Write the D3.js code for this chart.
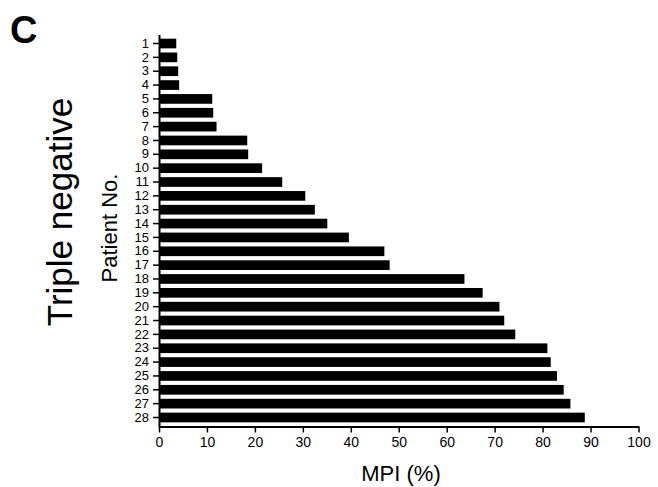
<!DOCTYPE html>
<html>
<head>
<meta charset="utf-8">
<script src="https://cdn.jsdelivr.net/npm/d3@7"></script>
<style>
  body { margin: 0; background: #fff; }
  text { font-family: "Liberation Sans", Arial, Helvetica, sans-serif; }
</style>
</head>
<body>
<div id="container"></div>
<script>
const patients = ["1","2","3","4","5","6","7","8","9","10","11","12","13","14",
                  "15","16","17","18","19","20","21","22","23","24","25","26","27","28"];
// MPI (%) per patient
const mpi = [3.6, 3.8, 4.0, 4.2, 11.1, 11.3, 12.0, 18.4, 18.6, 21.5, 25.7, 30.5, 32.5, 35.1,
             39.6, 47.0, 48.1, 63.7, 67.5, 71.0, 72.0, 74.3, 81.0, 81.7, 83.0, 84.4, 85.8, 88.8];
const xTicks = [0, 10, 20, 30, 40, 50, 60, 70, 80, 90, 100];

const width = 658, height = 487;
const margin = { top: 34.5, right: 20, bottom: 60.5, left: 159 };

const rows = patients.map((p, i) => ({ patient: p, value: mpi[i] }));

const svg = d3.select("#container")
  .append("svg")
    .attr("width", width)
    .attr("height", height);

const x = d3.scaleLinear()
  .domain([0, 100])
  .range([margin.left, 638.5]);

const y = d3.scaleBand()
  .domain(patients)
  .range([margin.top, height - margin.bottom])
  .padding(0.3);

// bars
svg.append("g")
  .selectAll("rect")
  .data(rows)
  .join("rect")
    .attr("x", x(0))
    .attr("y", d => y(d.patient))
    .attr("width", d => x(d.value) - x(0))
    .attr("height", y.bandwidth())
    .attr("fill", "#000");

// y axis
const yAxis = svg.append("g")
  .attr("transform", `translate(${margin.left},0)`)
  .call(d3.axisLeft(y).tickSize(6).tickSizeOuter(0).tickPadding(4));
yAxis.select(".domain").attr("stroke-width", 2);
yAxis.selectAll(".tick line").attr("stroke-width", 1.5);
yAxis.selectAll("text").attr("font-size", 13).attr("fill", "#000");

// x axis
const xAxis = svg.append("g")
  .attr("transform", `translate(0,${height - margin.bottom})`)
  .call(d3.axisBottom(x).tickValues(xTicks).tickSize(6).tickSizeOuter(0).tickPadding(5));
xAxis.select(".domain").attr("stroke-width", 2);
xAxis.selectAll(".tick line").attr("stroke-width", 1.5);
xAxis.selectAll("text").attr("font-size", 14).attr("fill", "#000");

// labels
svg.append("text")
  .attr("x", 401)
  .attr("y", 481)
  .attr("text-anchor", "middle")
  .attr("font-size", 22)
  .text("MPI (%)");

svg.append("text")
  .attr("transform", "translate(117,228) rotate(-90)")
  .attr("text-anchor", "middle")
  .attr("font-size", 22)
  .text("Patient No.");

svg.append("text")
  .attr("transform", "translate(72,212) rotate(-90)")
  .attr("text-anchor", "middle")
  .attr("font-size", 35)
  .text("Triple negative");

svg.append("text")
  .attr("x", 10)
  .attr("y", 43)
  .attr("font-size", 38)
  .attr("font-weight", "bold")
  .text("C");
</script>
</body>
</html>
